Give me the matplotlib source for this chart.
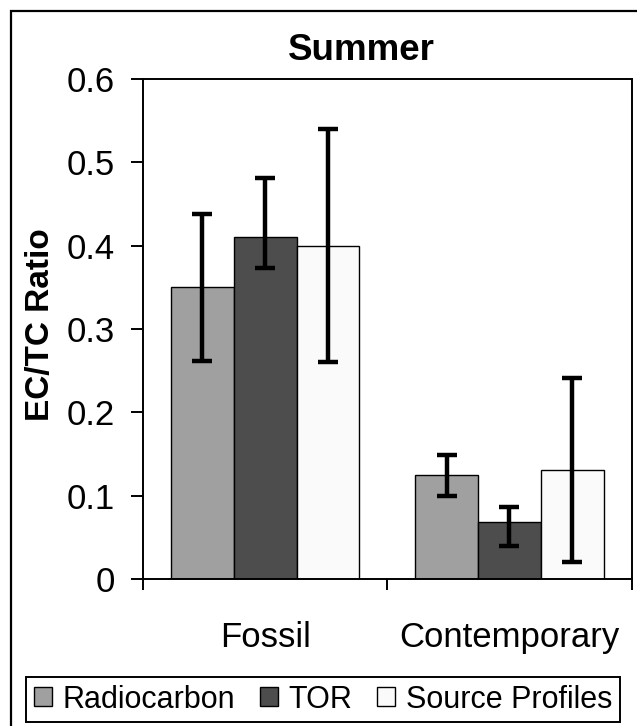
import matplotlib.pyplot as plt
import numpy as np
from matplotlib.patches import Rectangle

plt.rcParams["font.family"] = ["Liberation Sans", "DejaVu Sans"]

categories = ["Fossil", "Contemporary"]
series = ["Radiocarbon", "TOR", "Source Profiles"]
values = [
    [0.350, 0.125],
    [0.410, 0.068],
    [0.400, 0.131],
]
err_low = [
    [0.262, 0.100],
    [0.373, 0.040],
    [0.260, 0.020],
]
err_high = [
    [0.438, 0.149],
    [0.481, 0.086],
    [0.540, 0.241],
]
colors = ["#a0a0a0", "#4d4d4d", "#fafafa"]
y_ticks = [0, 0.1, 0.2, 0.3, 0.4, 0.5, 0.6]
y_labels = ["0", "0.1", "0.2", "0.3", "0.4", "0.5", "0.6"]

fig = plt.figure(figsize=(6.37, 7.26), dpi=100)
ax = fig.add_axes([0.2245, 0.2025, 0.767, 0.6887])

x = np.arange(len(categories))
width = 0.257
for i, name in enumerate(series):
    pos = x + (i - 1) * width
    vals = np.array(values[i])
    yerr = [vals - np.array(err_low[i]), np.array(err_high[i]) - vals]
    ax.bar(pos, vals, width, color=colors[i], edgecolor="black", linewidth=1.0,
           label=name, zorder=2)
    ax.errorbar(pos, vals, yerr=yerr, fmt="none", ecolor="black", elinewidth=3.2,
                capsize=7.2, capthick=3.2, zorder=3)

ax.set_xlim(-0.5, 1.5)
ax.set_ylim(0, 0.6)
ax.set_yticks(y_ticks)
ax.set_yticklabels(y_labels, fontsize=25)
ax.tick_params(axis="y", direction="out", length=9, width=1.4, pad=11)

ax.set_xticks(x)
ax.set_xticklabels(categories, fontsize=25)
ax.tick_params(axis="x", which="major", length=0, pad=30)
ax.set_xticks([-0.5, 0.5, 1.5], minor=True)
ax.tick_params(axis="x", which="minor", direction="out", length=8, width=1.4)

for s in ax.spines.values():
    s.set_linewidth(1.4)
    s.set_color("black")

ax.set_ylabel("EC/TC Ratio", fontsize=24, fontweight="bold")
ax.yaxis.set_label_coords(-0.178, 0.508)
fig.text(361 / 637, 1 - 60 / 726, "Summer", fontsize=26.5, fontweight="bold",
         ha="center", va="baseline")

leg = fig.legend(loc="center", bbox_to_anchor=(0.507, 0.0365), ncol=3, fontsize=22,
                 frameon=True, fancybox=False, edgecolor="black", framealpha=1,
                 handlelength=0.6, handleheight=0.6, handletextpad=0.35,
                 columnspacing=0.8, borderpad=0.25, borderaxespad=0)
leg.get_frame().set_linewidth(1.4)

fig.patches.append(Rectangle((11 / 637, -0.1), 1.2, 1 - 11 / 726 + 0.1,
                             transform=fig.transFigure, fill=False,
                             edgecolor="black", linewidth=1.6))

fig.savefig("out.png", dpi=100)
